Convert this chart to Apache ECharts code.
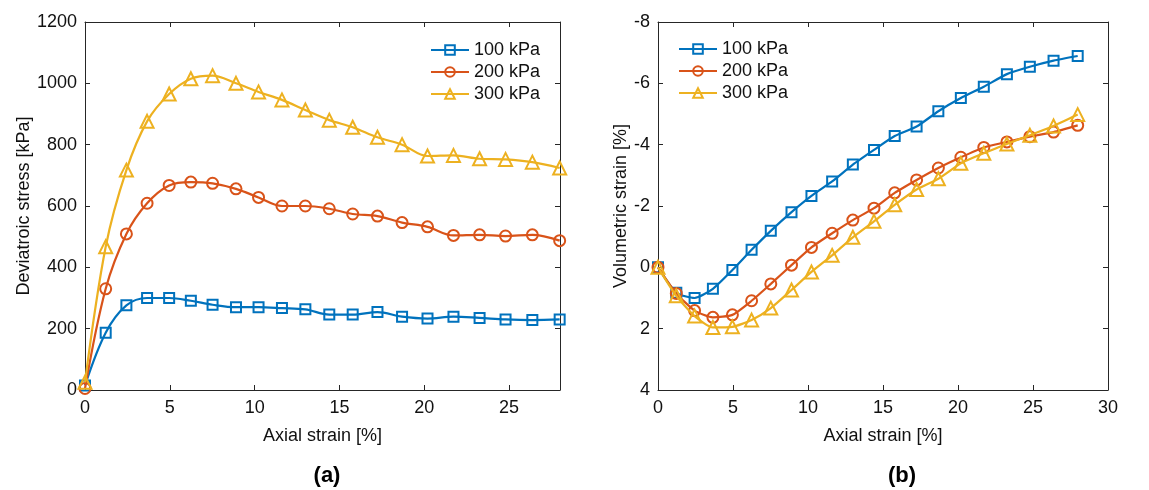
<!DOCTYPE html>
<html>
<head>
<meta charset="utf-8">
<script src="https://cdn.jsdelivr.net/npm/echarts@6/dist/echarts.min.js"></script>
<style>html,body{margin:0;padding:0;background:#fff;}#c{width:1149px;height:490px;}</style>
</head>
<body>
<div id="c"></div>
<script>
const seriesNames = ['100 kPa', '200 kPa', '300 kPa'];
const strain = [0, 1.22, 2.44, 3.66, 4.96, 6.24, 7.52, 8.9, 10.23, 11.61, 12.99, 14.4, 15.78, 17.24, 18.69, 20.19, 21.72, 23.26, 24.79, 26.37, 27.98];
const q100 = [15, 187, 276, 300, 300, 291, 278, 270, 270, 267, 263, 246, 246, 254, 239, 233, 239, 235, 230, 228, 230];
const q200 = [5, 330, 509, 609, 667, 678, 674, 656, 628, 600, 600, 591, 574, 567, 546, 532, 504, 506, 502, 506, 487];
const q300 = [25, 467, 717, 876, 965, 1015, 1025, 1000, 972, 946, 913, 880, 857, 824, 800, 763, 765, 754, 752, 743, 724];
const ev100 = [0, 0.83, 1.0, 0.70, 0.09, -0.57, -1.19, -1.80, -2.33, -2.80, -3.35, -3.83, -4.28, -4.59, -5.09, -5.52, -5.89, -6.30, -6.54, -6.74, -6.89];
const ev200 = [0, 0.85, 1.41, 1.63, 1.55, 1.09, 0.54, -0.07, -0.65, -1.11, -1.54, -1.93, -2.43, -2.85, -3.24, -3.59, -3.91, -4.09, -4.26, -4.41, -4.63];
const ev300 = [0, 0.93, 1.59, 1.96, 1.94, 1.72, 1.33, 0.74, 0.15, -0.39, -0.98, -1.50, -2.04, -2.54, -2.89, -3.39, -3.72, -4.02, -4.31, -4.61, -4.98];
const panelTitles = ['(a)', '(b)'];

const colors = ['#0072BD', '#D95319', '#EDB120'];
const symbols = ['rect', 'circle', 'triangle'];
const symSizes = [10, 11, 13];
const FONT = '"Liberation Sans", Arial, Helvetica, sans-serif';
const AX = '#262626';

function pairs(ys) { return strain.map((x, i) => [x, ys[i]]); }

function mkSeries(name, ys, k, xi, yi, smooth) {
  return {
    type: 'line', name: name, data: pairs(ys), xAxisIndex: xi, yAxisIndex: yi,
    smooth: smooth, symbol: symbols[k], symbolSize: symSizes[k], showAllSymbol: true,
    lineStyle: { color: colors[k], width: 2.2 },
    itemStyle: { color: 'rgba(255,255,255,0)', borderColor: colors[k], borderWidth: 2 },
    emphasis: { disabled: true }, animation: false, z: 2 + k
  };
}

function xAx(grid, max, pos, show) {
  return {
    type: 'value', gridIndex: grid, min: 0, max: max, interval: 5, position: pos,
    axisLine: { show: true, onZero: false, lineStyle: { color: AX, width: 1 } },
    axisTick: { show: true, inside: true, length: 5, lineStyle: { color: AX } },
    axisLabel: { show: show, color: '#111', fontSize: 18, fontFamily: FONT, margin: 9,
      formatter: v => (v % 5 === 0 ? String(v) : '') },
    splitLine: { show: false },
    name: show ? 'Axial strain [%]' : '', nameLocation: 'middle', nameGap: 37,
    nameTextStyle: { color: '#111', fontSize: 18, fontFamily: FONT }
  };
}
function yAx(grid, min, max, interval, inverse, pos, show, name, gap) {
  return {
    type: 'value', gridIndex: grid, min: min, max: max, interval: interval, inverse: inverse, position: pos,
    axisLine: { show: true, onZero: false, lineStyle: { color: AX, width: 1 } },
    axisTick: { show: true, inside: true, length: 5, lineStyle: { color: AX } },
    axisLabel: { show: show, color: '#111', fontSize: 18, fontFamily: FONT, margin: 8,
      formatter: v => String(v) },
    splitLine: { show: false },
    name: show ? name : '', nameLocation: 'middle', nameGap: gap,
    nameTextStyle: { color: '#111', fontSize: 18, fontFamily: FONT }
  };
}

const legendBase = {
  orient: 'vertical', itemWidth: 38, itemHeight: 12, itemGap: 4,
  textStyle: { fontSize: 18, fontFamily: FONT, color: '#111' },
  data: seriesNames, selectedMode: false
};

const option = {
  backgroundColor: '#fff',
  animation: false,
  title: [
    { text: panelTitles[0], left: 322, top: 460, textAlign: 'center',
      textStyle: { fontSize: 22, fontWeight: 'bold', fontFamily: FONT, color: '#000' } },
    { text: panelTitles[1], left: 897, top: 460, textAlign: 'center',
      textStyle: { fontSize: 22, fontWeight: 'bold', fontFamily: FONT, color: '#000' } }
  ],
  legend: [
    Object.assign({}, legendBase, { left: 425, top: 36 }),
    Object.assign({}, legendBase, { left: 673, top: 35 })
  ],
  grid: [
    { left: 85, right: 589, top: 22, bottom: 100, containLabel: false },
    { left: 658, right: 41, top: 22, bottom: 100, containLabel: false }
  ],
  xAxis: [
    xAx(0, 28, 'bottom', true),
    xAx(0, 28, 'top', false),
    xAx(1, 30, 'bottom', true),
    xAx(1, 30, 'top', false)
  ],
  yAxis: [
    yAx(0, 0, 1200, 200, false, 'left', true, 'Deviatroic stress [kPa]', 43),
    yAx(0, 0, 1200, 200, false, 'right', false, '', 0),
    yAx(1, -8, 4, 2, true, 'left', true, 'Volumetric strain [%]', 28),
    yAx(1, -8, 4, 2, true, 'right', false, '', 0)
  ],
  series: [
    mkSeries(seriesNames[0], q100, 0, 0, 0, 0.35),
    mkSeries(seriesNames[1], q200, 1, 0, 0, 0.35),
    mkSeries(seriesNames[2], q300, 2, 0, 0, 0.35),
    mkSeries(seriesNames[0], ev100, 0, 2, 2, 0.2),
    mkSeries(seriesNames[1], ev200, 1, 2, 2, 0.2),
    mkSeries(seriesNames[2], ev300, 2, 2, 2, 0.2)
  ]
};

const chart = echarts.init(document.getElementById('c'), null, { renderer: 'canvas' });
chart.setOption(option);
</script>
</body>
</html>
